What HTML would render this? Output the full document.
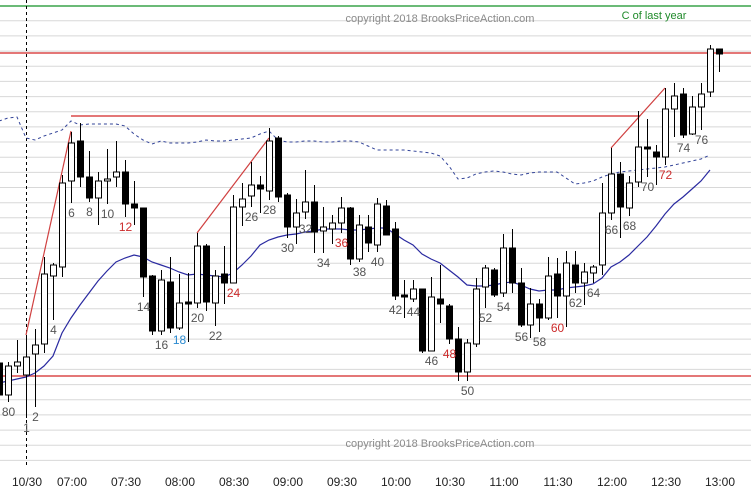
<!DOCTYPE html>
<html><head><meta charset="utf-8"><style>
html,body{margin:0;padding:0;background:#fff;}
svg{display:block;font-family:"Liberation Sans",sans-serif;}
</style></head><body>
<svg id="chart" width="751" height="489" viewBox="0 0 751 489" xmlns="http://www.w3.org/2000/svg">
<rect x="0" y="0" width="751" height="489" fill="#fff"/>
<g id="grid"></g>
<g id="overlays"></g>
<g id="candles"></g>
<g id="labels"></g>
<g id="xaxis"></g>
<text x="440" y="22" font-size="11" fill="#8a8a8a" text-anchor="middle">copyright 2018 BrooksPriceAction.com</text>
<text x="440" y="447" font-size="11" fill="#8a8a8a" text-anchor="middle">copyright 2018 BrooksPriceAction.com</text>
<text x="654" y="19" font-size="11" fill="#1f8a2a" text-anchor="middle">C of last year</text>
</svg>
<script>
const firstBar = -2;
const opens  = [2659.25,2651.25,2658.5,2656.25,2661.5,2664,2681,2683.25,2704.75,2714.75,2705.75,2700.5,2704.75,2705.75,2707,2699,2698,2681,2667.25,2679.5,2668,2674.5,2674.25,2688.5,2674.25,2681.5,2679.25,2698.25,2701,2703.75,2702.25,2715.5,2701.25,2693.25,2697,2699.5,2692.25,2692.75,2694.25,2698,2685.25,2693.25,2688.75,2698.5,2692.75,2676.25,2675.25,2677.75,2662.25,2675.25,2673.5,2665.25,2657,2664,2678.25,2682.5,2676.75,2688,2679.25,2668.75,2674,2670.5,2681.5,2676,2683.75,2679.25,2681.75,2683.75,2696.75,2706.5,2698,2704.5,2713.25,2712,2710.75,2722.75,2726.5,2716.5,2723.25,2727,2737.75];
const highs  = [2663.75,2659.5,2665,2666.25,2667.75,2685.75,2684.25,2706.25,2717,2719.25,2712.25,2707,2712.75,2714.75,2710,2704.75,2698,2681.25,2682.5,2685.75,2681.5,2681.75,2691.75,2689,2682.5,2688.5,2701.25,2704.25,2709.5,2706,2718,2716,2701.75,2700.25,2707.5,2703.75,2698.25,2696.25,2700.75,2698.25,2696.25,2696.25,2700.5,2700,2694.5,2680,2680,2677.75,2680.75,2683.75,2674,2668.25,2665.25,2680.5,2683.75,2683,2691.5,2692.75,2683,2678,2675.25,2685.75,2685.5,2687.25,2687.25,2684.25,2683.75,2704.25,2713,2709.5,2706,2722.25,2720.25,2713.75,2728,2729.25,2728,2726,2729.25,2738.75,2737.75];
const lows   = [2648.75,2649.5,2656.75,2645.5,2648.25,2661.75,2670,2680.75,2699.25,2703.25,2699.5,2693.75,2699,2703.25,2695.75,2693.75,2675.75,2666.25,2666.25,2666.75,2667.5,2664.5,2673,2672.25,2668.5,2674,2679.25,2693.5,2698.25,2696.75,2700,2699.5,2690.5,2689,2695.25,2686.75,2686.75,2689,2691.75,2683.75,2684.5,2687,2687,2691.25,2675,2670.5,2674.5,2661.75,2662.25,2669.25,2664,2654.75,2654.75,2663.25,2673,2675.75,2675.75,2676.75,2668.25,2665.5,2667,2670,2670.5,2668.25,2676.75,2673.75,2679.25,2681.25,2695,2690.5,2696,2703.25,2705.75,2703.75,2708.75,2715.75,2715.5,2716.25,2717.5,2725.75,2732];
const closes = [2651.25,2658.5,2659.5,2660.75,2663.75,2681.5,2683.75,2704.25,2714.25,2705.75,2700.5,2704.75,2705.25,2707,2699,2698,2680.75,2667.25,2680,2668,2674.25,2674,2688.5,2674.5,2681,2679.25,2698.25,2700.25,2703.75,2702.75,2714.75,2700.75,2693.25,2696.75,2699.5,2692,2693.25,2694.25,2698,2685.25,2693.75,2689.25,2699,2691.25,2676,2675.75,2677.75,2662.25,2675.75,2674,2665.25,2657,2664.25,2677.75,2683,2676.25,2688,2679.25,2668.75,2674,2670.5,2681,2676,2684.25,2679.25,2682,2683.25,2696.75,2706.5,2698.25,2704.25,2713.25,2712.75,2710.75,2722.75,2726,2716.25,2723.25,2726.5,2737.75,2736.5];
const ema20  = [2654.25,2654.75,2655.25,2655.75,2656.75,2658.5,2661,2666.75,2670.5,2673.75,2676.75,2679.75,2682.25,2684.5,2685.5,2686.25,2685.75,2684.5,2683.75,2683,2682,2681.25,2681.5,2681.25,2681,2680.75,2681.75,2683.75,2686,2688.75,2690,2690.75,2691.25,2691.5,2692,2692.25,2692.75,2692.75,2692.75,2692.5,2692.5,2692.75,2693,2693,2691.5,2690,2688.75,2686.5,2685.25,2684.25,2682.5,2680.75,2678.75,2678.5,2678.5,2678.75,2679.25,2679.5,2678.75,2677.75,2677.25,2677.5,2677.5,2678,2678.25,2678.5,2679,2680.5,2683.25,2684.5,2686.25,2688.5,2690.75,2693.5,2696.5,2699,2700.75,2702.75,2704.75,2707.5];
const dashedAvg = [2719.75,2720.5,2720.75,2715.5,2715,2716,2716.75,2717.5,2719.75,2718.75,2719,2719,2719,2719,2718.5,2716.5,2715,2714,2714.75,2714.25,2714.25,2714.25,2714.5,2715,2714.75,2714.75,2715,2715.25,2715.5,2716.5,2717.25,2715,2714.5,2714.5,2714.75,2714.75,2714.5,2714.5,2714.75,2714.75,2714.5,2713.5,2712.5,2712.5,2712.5,2712.5,2712.25,2712,2711.75,2711,2708.5,2705.25,2705.5,2706.5,2707,2707.25,2707,2706.5,2706.25,2706.75,2707,2707,2707,2705.5,2704,2704.25,2704.75,2705.75,2706.5,2707,2707.25,2707.5,2707.75,2708,2708.25,2708.75,2709.25,2709.75,2710.25,2711.25];
const timeLabels = ["10/30","07:00","07:30","08:00","08:30","09:00","09:30","10:00","10:30","11:00","11:30","12:00","12:30","13:00"];
const timeBars = [1,6,12,18,24,30,36,42,48,54,60,66,72,78];
const redLabelBars = [12,24,36,48,60,72];
const blueLabelBars = [18];
const extraLabels = ["80"];
const extraLabelBars = [-1];
const hLevels = [2736.75,2656];
const rangeTop = 2721;
const greenLevel = 2748.5;
const trendStart = [[1,2666.25],[20,2691.75],[66,2713]];
const trendEnd = [[6,2717.25],[28,2715.5],[72,2728]];

const NS = "http://www.w3.org/2000/svg";
function xs(i){ return 26 + (i-1)*9; }
function ys(p){ return (2750 - p)*4; }
function mk(tag, attrs, parent){ const e=document.createElementNS(NS,tag); for(const k in attrs) e.setAttribute(k,attrs[k]); parent.appendChild(e); return e; }

const grid=document.getElementById('grid');
for(let y=20.76; y<465; y+=15.16){
  const l=mk('line',{x1:0,x2:751,y1:y.toFixed(1),y2:y.toFixed(1),stroke:'#d8d8d8','stroke-width':1},grid);
  
  
}
const ov=document.getElementById('overlays');
{
  const g=mk('line',{x1:0,x2:751,y1:ys(greenLevel),y2:ys(greenLevel),stroke:'#3aa34a','stroke-width':1.5},ov);
  
  
  const v=mk('line',{x1:26.5,x2:26.5,y1:0,y2:466,stroke:'#000','stroke-width':1,'stroke-dasharray':'3,3'},ov);
  
  
}
hLevels.forEach(p=>{
  const l=mk('line',{x1:0,x2:751,y1:ys(p),y2:ys(p),stroke:'#e06060','stroke-width':2,opacity:0.85},ov);
  
  
});
{
  const l=mk('line',{x1:xs(6),x2:640,y1:ys(rangeTop),y2:ys(rangeTop),stroke:'#e06060','stroke-width':2,opacity:0.85},ov);
  
  
}
trendStart.forEach((s,k)=>{
  const e=trendEnd[k];
  const l=mk('line',{x1:xs(s[0]),y1:ys(s[1]),x2:xs(e[0]),y2:ys(e[1]),stroke:'#d04040','stroke-width':1.2},ov);
  
  
});
function pathFrom(arr){ return arr.map((p,k)=>(k?'L':'M')+xs(firstBar+k).toFixed(1)+' '+ys(p).toFixed(1)).join(' '); }
{
  const d=mk('path',{d:pathFrom(dashedAvg),fill:'none',stroke:'#334499','stroke-width':1,'stroke-dasharray':'3,3'},ov);
  
  
  const e=mk('path',{d:pathFrom(ema20),fill:'none',stroke:'#2a2aa0','stroke-width':1.2},ov);
  
  
}
const cg=document.getElementById('candles');
opens.forEach((o,k)=>{
  const i=firstBar+k, x=xs(i), c=closes[k], h=highs[k], l=lows[k];
  const g=mk('g',{},cg);
  
  
  mk('line',{x1:x+0.5,x2:x+0.5,y1:ys(h),y2:ys(l),stroke:'#000','stroke-width':1},g);
  const top=ys(Math.max(o,c)), bot=ys(Math.min(o,c));
  const bull=c>=o;
  mk('rect',{x:x-2.5,y:top,width:6,height:Math.max(bot-top,1.5),fill:bull?'#fff':'#000',stroke:'#000','stroke-width':1},g);
});
const lg=document.getElementById('labels');
function addLabel(txt,i,color){
  const k=i-firstBar;
  const t=mk('text',{x:xs(i)+0.5,y:ys(lows[k])+14,'font-size':12,fill:color,'text-anchor':'middle'},lg);
  t.textContent=txt;
  
  
}
for(let i=2;i<=76;i+=2){
  let col='#555';
  if(redLabelBars.includes(i)) col='#cc2a2a';
  if(blueLabelBars.includes(i)) col='#2a8ad0';
  addLabel(String(i),i,col);
}
addLabel("1",1,'#555');
extraLabels.forEach((t,k)=>addLabel(t,extraLabelBars[k],'#555'));
const xa=document.getElementById('xaxis');
timeLabels.forEach((t,k)=>{
  const e=mk('text',{x:xs(timeBars[k])+1,y:486,'font-size':12,fill:'#222','text-anchor':'middle'},xa);
  e.textContent=t;
  
  
});
</script>
</body></html>
